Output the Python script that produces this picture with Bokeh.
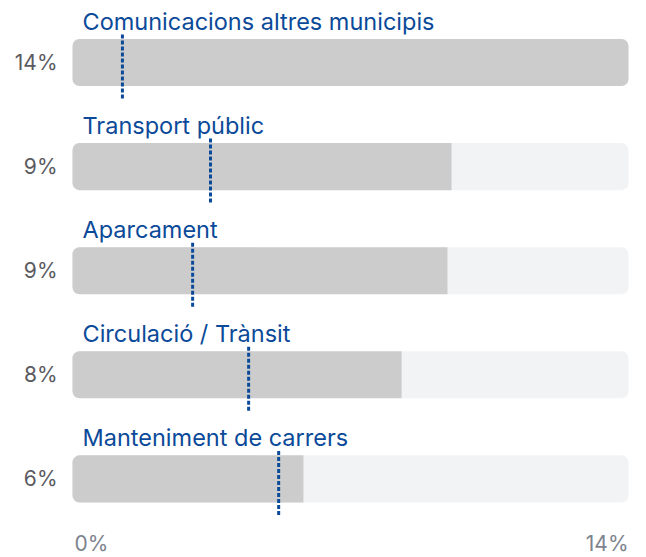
from bokeh.plotting import figure
from bokeh.models import ColumnDataSource, Range1d
from bokeh.core.properties import value
from bokeh.embed import file_html
from bokeh.resources import INLINE

categories = ["Comunicacions altres municipis", "Transport públic", "Aparcament",
              "Circulació / Trànsit", "Manteniment de carrers"]
values = [13.7, 9.34, 9.24, 8.11, 5.69]
markers = [1.23, 3.40, 2.96, 4.34, 5.08]
value_labels = ["14%", "9%", "9%", "8%", "6%"]
scale_max = 13.7
axis_labels = ["0%", "14%"]

BLUE = "#0b4a99"
FILL = "#cccccc"
TRACK = "#f2f3f5"
FONT = value("Inter")

n = len(categories)
ys = list(range(n))
bar_h = 0.452

W, H = 646, 557
px_per_x = 556 / scale_max
x_lo = -72 / px_per_x
x_hi = (W - 72) / px_per_x
py = 104.1
y_top = -62 / py
y_bot = (H - 62) / py

p = figure(width=W, height=H, output_backend="svg", toolbar_location=None,
           x_range=Range1d(x_lo, x_hi), y_range=Range1d(y_bot, y_top),
           min_border_left=0, min_border_right=0, min_border_top=0, min_border_bottom=0,
           x_axis_location=None, y_axis_location=None)
p.outline_line_color = None
p.xgrid.visible = False
p.ygrid.visible = False
p.background_fill_color = "white"
p.border_fill_color = "white"

src = ColumnDataSource(dict(
    y=ys, v=values, m=markers, cat=categories, lab=value_labels,
    zero=[0] * n, mx=[scale_max] * n,
    top=[y - bar_h / 2 for y in ys],
    mtop=[y - 0.269 for y in ys], mbot=[y + 0.346 for y in ys],
))

# tracks
p.hbar(y="y", left="zero", right="mx", height=bar_h, source=src,
       fill_color=TRACK, line_color=None, border_radius=7)

# filled bars
full = [i for i in range(n) if values[i] >= scale_max]
part = [i for i in range(n) if values[i] < scale_max]
src_full = ColumnDataSource(dict(y=[ys[i] for i in full], v=[values[i] for i in full],
                                 zero=[0] * len(full)))
src_part = ColumnDataSource(dict(y=[ys[i] for i in part], v=[values[i] for i in part],
                                 zero=[0] * len(part)))
p.hbar(y="y", left="zero", right="v", height=bar_h, source=src_full,
       fill_color=FILL, line_color=None, border_radius=7)
p.hbar(y="y", left="zero", right="v", height=bar_h, source=src_part,
       fill_color=FILL, line_color=None, border_radius=(7, 0, 0, 7))

# category labels
p.text(x="zero", y="top", text="cat", source=src, x_offset=10, y_offset=-17.5,
       text_font=FONT, text_font_size="23.5px", text_color=BLUE,
       text_baseline="middle", text_align="left")

# value labels on the left
p.text(x="zero", y="y", text="lab", source=src, x_offset=-15,
       text_font=FONT, text_font_size="21px", text_color="#5a5a60",
       text_baseline="middle", text_align="right")

# dotted markers
p.segment(x0="m", y0="mtop", x1="m", y1="mbot", source=src,
          line_color=BLUE, line_width=3, line_dash="4 2")

# bottom scale labels
bsrc = ColumnDataSource(dict(x=[0, scale_max], y=[(543 - 62) / py] * 2, t=axis_labels,
                             align=["left", "right"], xo=[2, 0]))
p.text(x="x", y="y", text="t", source=bsrc, text_align="align", x_offset="xo",
       text_font=FONT, text_font_size="21px", text_color="#7d838d",
       text_baseline="middle")

open("out.html", "w").write(file_html(p, INLINE))
